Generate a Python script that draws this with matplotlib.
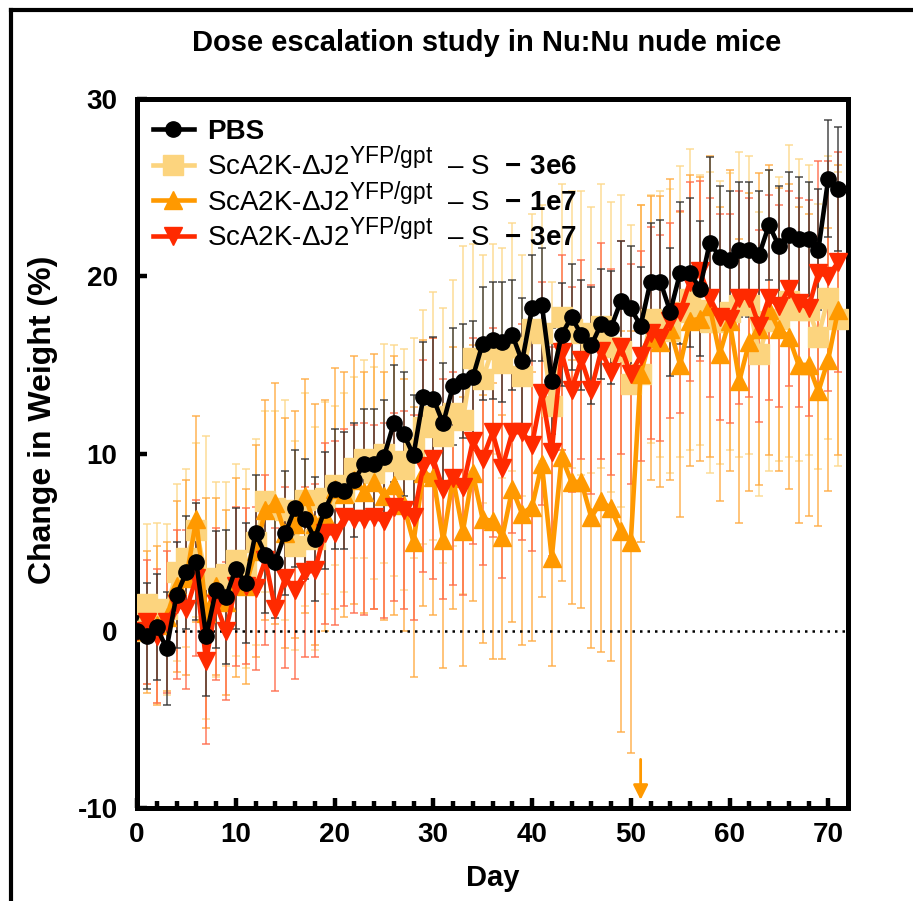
import numpy as np
import matplotlib
matplotlib.use("Agg")
import matplotlib.pyplot as plt
import matplotlib._mathtext as mathtext_mod
from matplotlib.lines import Line2D

plt.rcParams['font.family'] = ['Liberation Sans', 'DejaVu Sans']
plt.rcParams['mathtext.fontset'] = 'custom'
plt.rcParams['mathtext.rm'] = 'Liberation Sans'
plt.rcParams['mathtext.bf'] = 'Liberation Sans:bold'
plt.rcParams['axes.unicode_minus'] = False
# superscripts in the legend are a bit larger than mathtext's default
mathtext_mod.SHRINK_FACTOR = 0.82

days = list(range(72))

pbs = [0, -0.3, 0.2, -1.0, 2.0, 3.3, 3.9, -0.3, 2.3, 1.9,
       3.5, 2.7, 5.5, 4.3, 3.9, 5.5, 6.9, 6.3, 5.2, 6.8,
       8.0, 7.9, 8.5, 9.4, 9.4, 9.8, 11.7, 11.1, 9.9, 13.2,
       13.1, 11.7, 13.8, 14.1, 14.3, 16.2, 16.4, 16.3, 16.7, 15.2,
       18.2, 18.4, 14.1, 16.7, 17.7, 16.7, 16.1, 17.3, 17.1, 18.6,
       18.2, 17.2, 19.7, 19.7, 18.0, 20.2, 20.2, 19.3, 21.9, 21.1,
       20.9, 21.5, 21.5, 21.2, 22.9, 21.7, 22.3, 22.1, 22.1, 21.5,
       25.5, 24.9]
pbs_sd = [0, 3.0, 3.0, 3.2, 3.0, 3.2, 3.3, 3.4, 3.3, 3.8,
          3.4, 3.4, 3.3, 3.3, 3.2, 3.5, 3.3, 3.4, 3.5, 3.3,
          3.4, 3.3, 3.2, 3.1, 3.1, 3.2, 3.3, 3.5, 3.4, 3.1,
          3.5, 3.4, 3.3, 3.2, 3.2, 3.2, 3.3, 3.4, 3.1, 3.6,
          3.0, 3.2, 3.0, 2.9, 3.0, 3.1, 3.3, 3.1, 3.2, 3.4,
          3.5, 3.3, 3.3, 3.5, 3.6, 4.0, 4.2, 3.8, 4.8, 4.0,
          3.9, 3.8, 3.8, 3.6, 3.1, 3.4, 3.6, 3.5, 3.2, 3.4,
          3.3, 3.5]

low = [0, 1.5, 1.0, 1.2, 3.3, 4.1, 5.7, 3.0, 2.9, 3.2,
       4.0, 3.5, 5.0, 7.3, 6.9, 6.8, 4.8, 7.4, 5.2, 7.5,
       8.2, 7.8, 9.2, 9.7, 8.9, 10.0, 9.6, 9.1, 10.3, 11.5,
       12.1, 11.0, 12.3, 11.9, 15.4, 14.2, 15.9, 15.1, 16.0, 14.4,
       17.0, 16.8, 12.7, 17.7, 17.0, 16.8, 16.4, 17.2, 16.0, 15.8,
       13.9, 14.5, 17.6, 17.3, 16.9, 18.0, 18.7, 18.1, 17.4, 17.4,
       18.0, 18.4, 18.4, 15.6, 17.5, 17.6, 18.6, 18.1, 18.1, 16.6,
       18.8, 17.6]
low_sd = [0, 4.5, 5.1, 4.8, 5.0, 5.0, 4.9, 8.0, 5.5, 5.2,
          5.4, 5.6, 5.8, 5.1, 5.5, 6.2, 5.9, 6.0, 6.3, 5.4,
          4.5, 5.6, 5.1, 5.6, 6.0, 6.2, 6.5, 6.8, 6.2, 6.6,
          7.0, 7.2, 7.5, 9.8, 6.4, 7.0, 5.9, 6.5, 7.0, 6.8,
          6.5, 7.2, 7.0, 7.5, 7.8, 8.0, 7.5, 8.0, 8.2, 8.8,
          9.0, 9.5, 7.0, 7.5, 8.0, 8.2, 8.5, 7.6, 8.5, 8.0,
          7.8, 8.6, 8.4, 8.0, 8.5, 8.0, 8.8, 8.5, 8.2, 7.5,
          8.0, 8.3]

mid = [0, 0.5, 0.3, 0.8, 2.5, 3.0, 6.3, 1.0, 2.5, 1.6,
       3.0, 2.5, 4.5, 6.8, 7.2, 5.5, 6.0, 7.6, 6.0, 6.5,
       8.0, 7.7, 8.5, 7.8, 8.4, 7.6, 8.2, 7.1, 5.0, 8.9,
       8.7, 5.1, 8.6, 5.6, 8.9, 6.3, 6.2, 5.3, 8.0, 6.6,
       7.0, 9.4, 4.1, 9.8, 8.4, 8.4, 6.4, 7.3, 6.9, 5.6,
       5.0, 14.5, 16.5, 16.3, 17.0, 15.0, 17.5, 17.6, 18.3, 15.6,
       17.5, 14.1, 16.3, 17.0, 18.1, 17.0, 16.6, 15.0, 15.0, 13.5,
       15.3, 18.1]
mid_sd = [0, 4.0, 4.5, 4.2, 4.8, 5.5, 5.8, 6.5, 5.0, 5.2,
          5.6, 5.5, 6.0, 6.2, 6.8, 6.5, 6.4, 6.6, 6.8, 6.5,
          6.8, 6.9, 7.0, 6.8, 7.2, 7.0, 7.3, 7.1, 7.6, 7.5,
          7.8, 7.2, 7.4, 7.6, 7.2, 7.0, 7.8, 6.9, 7.5, 7.4,
          7.6, 7.5, 6.1, 7.0, 6.9, 7.1, 7.4, 8.5, 8.6, 11.3,
          11.9, 9.5, 8.0, 8.2, 8.5, 8.6, 8.2, 8.0, 8.5, 8.3,
          8.5, 8.0, 8.4, 8.8, 8.2, 8.0, 8.6, 8.9, 8.5, 7.6,
          7.4, 8.2]

high = [0, 0.5, -0.3, 0.5, 1.5, 1.2, 3.0, -1.7, 1.5, 0.0,
        2.5, 2.5, 2.4, 4.0, 1.2, 3.0, 2.3, 3.3, 3.4, 5.5,
        5.5, 6.4, 6.3, 6.3, 6.4, 6.2, 7.0, 6.8, 6.4, 9.3,
        9.7, 8.0, 8.6, 8.1, 10.7, 9.7, 11.2, 9.2, 11.2, 11.2,
        10.5, 13.4, 10.1, 15.7, 13.6, 15.3, 13.6, 15.8, 14.6, 16.0,
        14.5, 15.5, 16.8, 16.5, 17.5, 18.0, 19.7, 20.3, 18.8, 17.7,
        17.6, 18.8, 18.8, 17.2, 18.8, 18.3, 19.3, 18.5, 18.2, 20.2,
        20.0, 20.8]
high_sd = [0, 3.5, 3.8, 4.0, 4.2, 4.5, 4.4, 4.7, 4.3, 3.9,
           4.5, 4.4, 4.6, 4.8, 4.6, 5.1, 5.0, 4.8, 4.9, 5.1,
           5.2, 5.0, 5.3, 5.4, 5.2, 5.5, 5.3, 5.6, 5.8, 6.0,
           6.8, 6.2, 6.0, 6.1, 5.8, 6.0, 5.9, 6.2, 5.7, 6.1,
           6.0, 6.3, 5.9, 5.5, 5.8, 5.6, 5.9, 6.1, 5.8, 6.0,
           6.2, 5.9, 6.0, 5.8, 5.5, 5.7, 5.6, 5.1, 5.6, 5.8,
           5.9, 6.0, 5.6, 5.4, 5.8, 5.7, 5.5, 5.9, 6.1, 6.3,
           6.5, 6.2]

labels = ['PBS',
          r'ScA2K-ΔJ2$^{\mathregular{YFP/gpt}}$  – S  $\mathbf{-\ 3e6}$',
          r'ScA2K-ΔJ2$^{\mathregular{YFP/gpt}}$  – S  $\mathbf{-\ 1e7}$',
          r'ScA2K-ΔJ2$^{\mathregular{YFP/gpt}}$  – S  $\mathbf{-\ 3e7}$']

fig = plt.figure(figsize=(9.13, 9.01), dpi=100)
ax = fig.add_axes([137/913, 1-808/901, (848-137)/913, (808-99)/901])

# series: values, sd, color, errorbar color, marker, size
series = [
    (low, low_sd, '#FCD47E', '#FDD88A', 's', 14),
    (mid, mid_sd, '#FF9900', '#FFAA40', '^', 12.5),
    (high, high_sd, '#FF2A00', '#FF6A4A', 'v', 12.5),
    (pbs, pbs_sd, 'black', '#333333', 'o', 11),
]
for vals, sd, col, ecol, mk, ms in series:
    ax.errorbar(days, vals, yerr=sd, fmt='none', ecolor=ecol, elinewidth=1.3,
                capsize=3, capthick=1.3, alpha=0.75, zorder=1)
for k, (vals, sd, col, ecol, mk, ms) in enumerate(series):
    ax.plot(days, vals, color=col, lw=3.3, marker=mk, ms=ms, mec=col, zorder=3+k)

ax.axhline(0, color='black', lw=1.8, ls=(0, (1, 2)), zorder=2)

ax.annotate('', xy=(51, -9.7), xytext=(51, -7.1),
            arrowprops=dict(arrowstyle='-|>', color='#FF9900', lw=2, mutation_scale=22))

ax.set_xlim(0, 72)
ax.set_ylim(-10, 30)
ax.set_xticks([0, 10, 20, 30, 40, 50, 60, 70])
ax.set_xticks(range(0, 72, 2), minor=True)
ax.set_yticks([-10, 0, 10, 20, 30])
for s in ax.spines.values():
    s.set_linewidth(3.6)
ax.tick_params(which='major', direction='in', length=7, width=3.2, pad=10,
               labelsize=20)
ax.tick_params(which='minor', direction='in', length=5, width=3.2)
ax.tick_params(axis='y', pad=14)
for t in ax.get_xticklabels() + ax.get_yticklabels():
    t.set_fontweight('bold')

ax.set_xlabel('Day', fontsize=21, fontweight='bold')
ax.xaxis.set_label_coords(0.5, -0.079)
ax.set_ylabel('Change in Weight (%)', fontsize=23, fontweight='bold')
ax.yaxis.set_label_coords(-0.111, 0.547)

fig.text(487/913, 1-43/901, 'Dose escalation study in Nu:Nu nude mice',
         ha='center', va='center', fontsize=21, fontweight='bold')

handles = [Line2D([], [], color=c, lw=3.3, marker=m, ms=ms, mec=c)
           for (_, _, c, _, m, ms) in [series[3], series[0], series[1], series[2]]]
leg = ax.legend(handles, labels, loc='upper left', bbox_to_anchor=(0.022, 0.972),
                frameon=False, fontsize=20, handlelength=1.5, handletextpad=0.45,
                labelspacing=0.03, borderpad=0, borderaxespad=0)
leg.get_texts()[0].set_fontweight('bold')

# outer frame of the figure
fig.add_artist(Line2D([11/913, 11/913], [0, 1-10/901], color='black', lw=3,
                      transform=fig.transFigure))
fig.add_artist(Line2D([11/913, 1], [1-10/901, 1-10/901], color='black', lw=3,
                      transform=fig.transFigure))

fig.savefig('out.png', dpi=100)
